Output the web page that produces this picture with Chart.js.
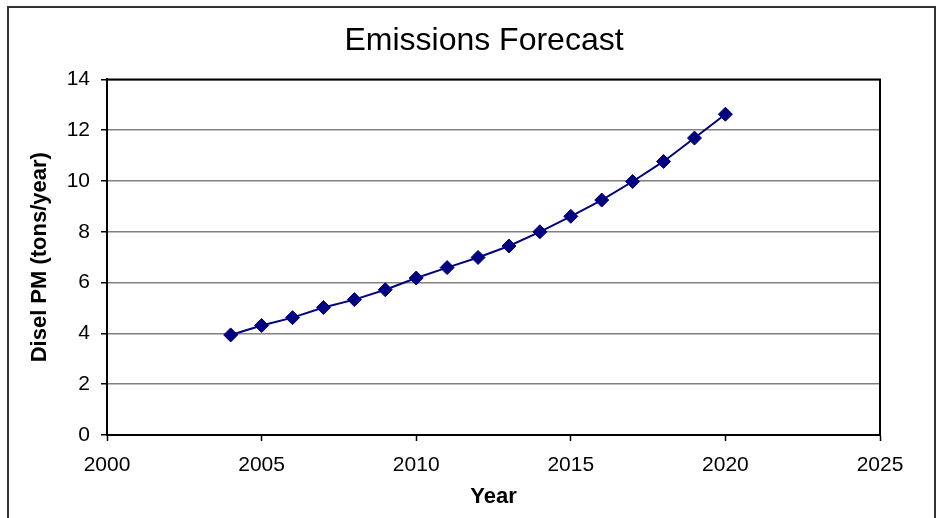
<!DOCTYPE html>
<html>
<head>
<meta charset="utf-8">
<title>Emissions Forecast</title>
<script src="https://cdn.jsdelivr.net/npm/chart.js@4.4.1/dist/chart.umd.min.js"></script>
<style>
  html, body { margin: 0; padding: 0; background: #ffffff; }
  #wrap { width: 942px; height: 518px; }
</style>
</head>
<body>
<div id="wrap"><canvas id="chart" width="942" height="518"></canvas></div>
<script>
// Forecast years and diesel particulate matter emissions (tons/year)
const years = [2004, 2005, 2006, 2007, 2008, 2009, 2010, 2011, 2012,
               2013, 2014, 2015, 2016, 2017, 2018, 2019, 2020];
const dieselPM = [3.94, 4.31, 4.62, 5.02, 5.33, 5.72, 6.18, 6.59, 6.99,
                  7.44, 8.00, 8.61, 9.25, 9.98, 10.77, 11.69, 12.63];

// Axis ranges and tick spacing
const xTicks = [2000, 2005, 2010, 2015, 2020, 2025];
const yTicks = [0, 2, 4, 6, 8, 10, 12, 14];

const chartTitle = 'Emissions Forecast';
const xTitle = 'Year';
const yTitle = 'Disel PM (tons/year)';

const FONT = '"Liberation Sans", Arial, Helvetica, sans-serif';
const NAVY = '#000080';

// Outer frame around the whole chart and the box around the plot area
const framePlugin = {
  id: 'frames',
  beforeDraw(chart) {
    const ctx = chart.ctx;
    ctx.save();
    ctx.fillStyle = '#ffffff';
    ctx.fillRect(0, 0, chart.width, chart.height);
    ctx.strokeStyle = '#333333';
    ctx.lineWidth = 2;
    ctx.strokeRect(8, 7, 927, 530);
    ctx.restore();
  },
  afterDatasetsDraw(chart) {
    const a = chart.chartArea;
    const ctx = chart.ctx;
    ctx.save();
    ctx.strokeStyle = '#000000';
    ctx.lineWidth = 2;
    ctx.beginPath();
    ctx.moveTo(a.left, a.top);
    ctx.lineTo(a.right, a.top);
    ctx.lineTo(a.right, a.bottom);
    ctx.stroke();
    ctx.restore();
  },
  afterLayout(chart) {
    // centre the chart title over the plot region
    const t = chart.titleBlock;
    if (t) {
      t.left = 88;
      t.right = chart.chartArea.right;
      t.width = t.right - t.left;
    }
  }
};

new Chart(document.getElementById('chart'), {
  type: 'line',
  data: {
    datasets: [{
      label: 'Diesel PM',
      data: years.map((y, i) => ({ x: y, y: dieselPM[i] })),
      borderColor: NAVY,
      backgroundColor: NAVY,
      borderWidth: 2,
      pointStyle: 'rectRot',
      pointRadius: 7,
      pointBorderWidth: 1,
      pointBorderColor: NAVY,
      pointBackgroundColor: NAVY,
      tension: 0,
      fill: false
    }]
  },
  options: {
    responsive: false,
    animation: false,
    devicePixelRatio: 1,
    layout: { padding: { left: 10, right: 62, top: 6, bottom: 0 } },
    plugins: {
      legend: { display: false },
      tooltip: { enabled: false },
      title: {
        display: true,
        text: chartTitle,
        color: '#000000',
        font: { family: FONT, size: 32, weight: 'normal', lineHeight: 1.2 },
        padding: { top: 16, bottom: 19 }
      }
    },
    scales: {
      x: {
        type: 'linear',
        min: xTicks[0],
        max: xTicks[xTicks.length - 1],
        afterFit(scale) { scale.height = 83; },
        afterBuildTicks(scale) { scale.ticks = xTicks.map(v => ({ value: v })); },
        ticks: {
          color: '#000000',
          font: { family: FONT, size: 21 },
          padding: 12,
          maxRotation: 0,
          callback: v => String(v)
        },
        grid: {
          drawOnChartArea: false,
          drawTicks: true,
          tickLength: 6,
          tickColor: '#000000',
          tickWidth: 1.5
        },
        border: { display: true, color: '#000000', width: 2 },
        title: {
          display: true,
          text: xTitle,
          color: '#000000',
          font: { family: FONT, size: 22, weight: 'bold', lineHeight: 1.2 },
          padding: { top: 4, bottom: 8 }
        }
      },
      y: {
        type: 'linear',
        min: yTicks[0],
        max: yTicks[yTicks.length - 1],
        afterFit(scale) { scale.width = 97; },
        afterBuildTicks(scale) { scale.ticks = yTicks.map(v => ({ value: v })); },
        ticks: {
          color: '#000000',
          font: { family: FONT, size: 21 },
          padding: 11,
          callback: v => String(v)
        },
        grid: {
          color: '#808080',
          lineWidth: 1.5,
          drawTicks: true,
          tickLength: 6,
          tickColor: '#000000',
          tickWidth: 1.5
        },
        border: { display: true, color: '#000000', width: 2 },
        title: {
          display: true,
          text: yTitle,
          color: '#000000',
          font: { family: FONT, size: 22, weight: 'bold', lineHeight: 1.2 },
          padding: { top: 17, bottom: 4 }
        }
      }
    }
  },
  plugins: [framePlugin]
});
</script>
</body>
</html>
